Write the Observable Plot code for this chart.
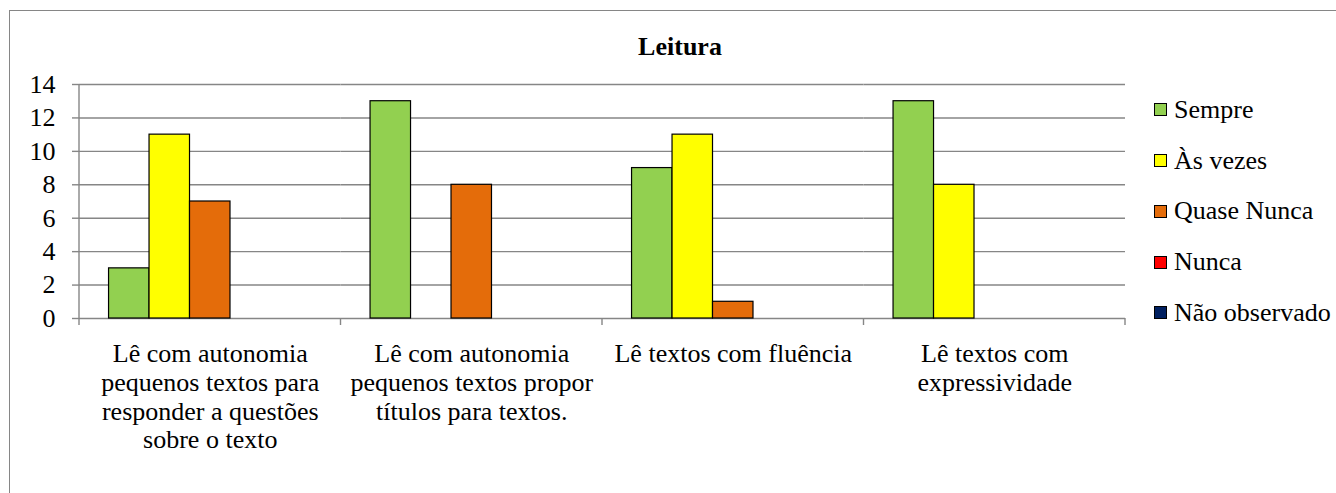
<!DOCTYPE html>
<html>
<head>
<meta charset="utf-8">
<script src="https://cdn.jsdelivr.net/npm/d3@7"></script>
<script src="https://cdn.jsdelivr.net/npm/@observablehq/plot@0.6"></script>
<style>
  html, body { margin: 0; padding: 0; background: #fff; overflow: hidden; }
  #wrap { position: relative; width: 1336px; height: 493px; font-family: "Liberation Serif", Tinos, "Times New Roman", "DejaVu Serif", serif; color: #000; }
  #border { position: absolute; left: 9px; top: 10px; width: 1340px; height: 500px; border: 1.5px solid #868686; box-sizing: border-box; }
  #title { position: absolute; left: 680px; top: 34px; transform: translateX(-50%); font-weight: bold; font-size: 26px; line-height: 26px; white-space: nowrap; }
  #legend { position: absolute; left: 1154px; top: 84.6px; }
  .row { display: flex; align-items: center; height: 50.75px; }
  .sw { width: 13px; height: 13px; box-sizing: border-box; border: 1.3px solid #000; margin-right: 7px; }
  .lab { font-size: 26px; line-height: 26px; white-space: nowrap; }
  #chart { position: absolute; left: 0; top: 0; }
</style>
</head>
<body>
<div id="wrap">
  <div id="border"></div>
  <div id="chart"></div>
  <div id="title"></div>
  <div id="legend"></div>
</div>
<script>
const title = "Leitura";
const categories = [
  "Lê com autonomia pequenos textos para responder a questões sobre o texto",
  "Lê com autonomia pequenos textos propor títulos para textos.",
  "Lê textos com fluência",
  "Lê textos com expressividade"
];
const categoryLabels = [
  "Lê com autonomia\npequenos textos para\nresponder a questões\nsobre o texto",
  "Lê com autonomia\npequenos textos propor\ntítulos para textos.",
  "Lê textos com fluência",
  "Lê textos com\nexpressividade"
];
const series = ["Sempre", "Às vezes", "Quase Nunca", "Nunca", "Não observado"];
const seriesColors = ["#92D050", "#FFFF00", "#E46C0A", "#FF0000", "#002060"];
const sempre = [3, 13, 9, 13];
const asVezes = [11, 0, 11, 8];
const quaseNunca = [7, 8, 1, 0];
const nunca = [0, 0, 0, 0];
const naoObservado = [0, 0, 0, 0];
const yTicks = [0, 2, 4, 6, 8, 10, 12, 14];

const seriesValues = [sempre, asVezes, quaseNunca, nunca, naoObservado];
const data = [];
categories.forEach((c, i) => {
  series.forEach((s, j) => {
    data.push({category: c, series: s, value: seriesValues[j][i]});
  });
});

const gridColor = "#868686";
const serifFont = "\"Liberation Serif\", Tinos, \"Times New Roman\", \"DejaVu Serif\", serif";

const chart = Plot.plot({
  width: 1336,
  height: 493,
  marginLeft: 79,
  marginRight: 211,
  marginTop: 84,
  marginBottom: 175,
  style: {
    fontFamily: serifFont,
    fontSize: "26px",
    color: "#000",
    background: "transparent",
    overflow: "visible"
  },
  fx: {domain: categories, paddingInner: 0, paddingOuter: 0, round: false, label: null},
  x: {domain: series, paddingInner: 0, paddingOuter: 0.73, round: false, axis: null},
  y: {domain: [0, 14], label: null},
  color: {domain: series, range: seriesColors},
  marks: [
    Plot.gridY(yTicks, {stroke: gridColor, strokeOpacity: 1, strokeWidth: 1.4}),
    Plot.barY(data, {
      filter: d => d.value > 0,
      fx: "category", x: "series", y: "value",
      fill: "series", stroke: "#000", strokeWidth: 1.2
    }),
    Plot.axisY(yTicks, {
      facetAnchor: "left",
      tickSize: 7, tickPadding: 17,
      stroke: gridColor, strokeWidth: 1.4, fill: "#000",
      fontSize: 26, label: null
    }),
    Plot.axisFx({
      anchor: "bottom",
      tickSize: 0, tickPadding: 23.5,
      tickFormat: d => categoryLabels[categories.indexOf(d)],
      lineHeight: 1.1,
      fontSize: 26, fill: "#000",
      label: null
    })
  ]
});

chart.style.fontFamily = serifFont;
document.getElementById("chart").appendChild(chart);

// Axis lines and category boundary ticks, positioned via the chart's own scales
const fx = chart.scale("fx");
const y = chart.scale("y");
const y0 = y.apply(0), y1 = y.apply(14);
const step = fx.bandwidth;
const starts = categories.map(c => fx.apply(c));
const bounds = starts.concat([starts[starts.length - 1] + step]);
const g = d3.select(chart).append("g").attr("stroke", gridColor).attr("stroke-width", 1.4);
g.append("line").attr("x1", starts[0]).attr("x2", starts[0]).attr("y1", y1).attr("y2", y0);
g.selectAll("line.tk").data(bounds).join("line").attr("class", "tk")
  .attr("x1", d => d).attr("x2", d => d).attr("y1", y0).attr("y2", y0 + 7);

document.getElementById("title").textContent = title;
const legend = d3.select("#legend");
series.forEach((s, i) => {
  const row = legend.append("div").attr("class", "row");
  row.append("div").attr("class", "sw").style("background", seriesColors[i]);
  row.append("div").attr("class", "lab").text(s);
});
</script>
</body>
</html>
